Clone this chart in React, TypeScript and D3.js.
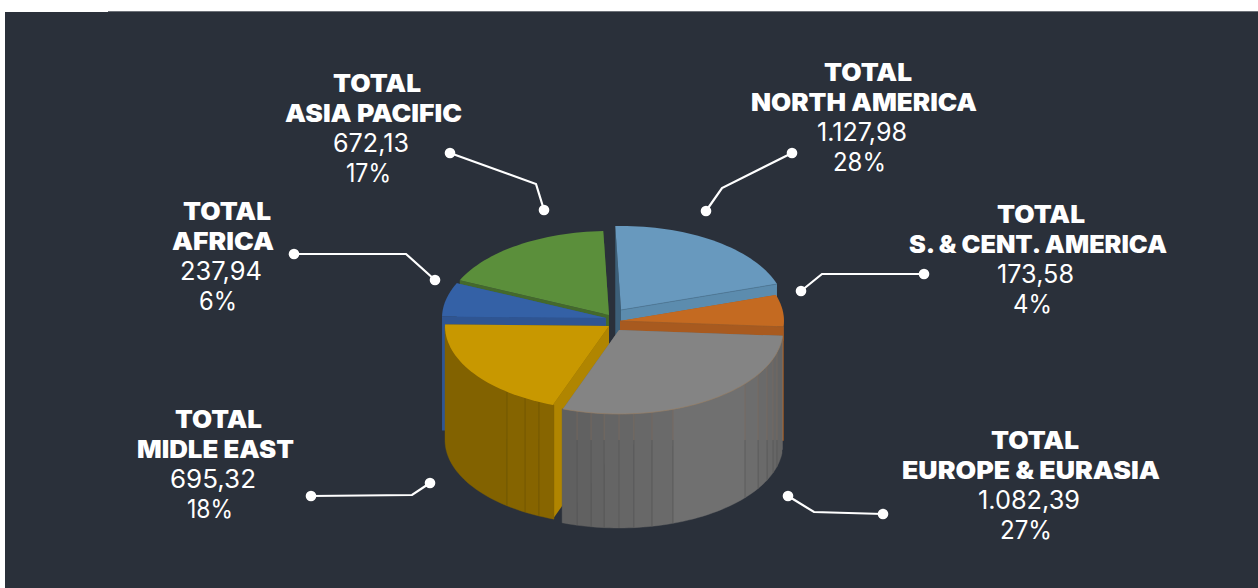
import React from "react";
import * as d3 from "d3";

const W = 1258, H = 588;
const BG = "#2a303a";

// ---- data, clockwise from the top of the pie
const regions = ["NORTH AMERICA", "S. & CENT. AMERICA", "EUROPE & EURASIA", "MIDLE EAST", "AFRICA", "ASIA PACIFIC"];
const regionValues = [1127.98, 173.58, 1082.39, 695.32, 237.94, 672.13];
const regionPercents = [28, 4, 27, 18, 6, 17];

// ---- perspective of the drawing: slice boundaries end up at these ellipse angles
const drawnBoundaries = [-2, 72, 94, 200, 271, 294.5, 358];

// ---- per slice styling
const topColors = ["#6899be", "#c46a21", "#848484", "#c89800", "#3461a6", "#5b8f3b"];
const startWallColors = ["#3d6079", "#a85a1f", "#6a6a6a", "#b08500", "#2f5592", "#44692c"];
const endWallColors = ["#5c8cae", "#bb6520", "#6a6a6a", "#7f6000", "#2f5592", "#44692c"];
const edgeBandColors = [null, "#a85a1f", null, null, null, null];
const edgeLineColors = ["#4f7897", "#9a5a28", null, null, null, null];
const rimLineColors = [null, null, "#9c7f62", null, null, null];
const explodeX = [9, 8, 7, -3, -6, -3];
const explodeY = [-10, 1, 10, 6, -2, -5];
const paintOrder = [5, 0, 4, 1, 3, 2];

// outer wall facets (degrees on the ellipse)
const greyFacets = [96.3, 105.6, 110.1, 115.5, 122, 129.8, 160.8, 168.4, 174.8, 180, 185.2, 189.8, 194.8, 200.3];
const goldFacets = [199.6, 205.3, 210.8, 218.5, 270];
const greyShade = d3.scaleLinear<string>().domain([200, 140, 96]).range(["#5f5f5f", "#727272", "#626262"]);
const goldShade = d3.scaleLinear<string>().domain([200, 270]).range(["#876500", "#7f6000"]);

// ---- labels
const labelHead = "TOTAL";
const labelOrder = [5, 0, 1, 4, 3, 2];
// [x0,x1] of the four rows of each region's label, in region order
const labelSpans = [
  [[824, 912], [751, 977], [817, 907], [833, 886]],
  [[997, 1085], [909, 1167], [997, 1074], [1013, 1052]],
  [[991, 1079], [902, 1160], [978, 1080], [1000, 1052]],
  [[175, 262], [137, 294], [170, 256], [187, 233]],
  [[183, 271], [172, 274], [180, 262], [199, 237]],
  [[333, 421], [285, 462], [333, 409], [346, 391]],
];
const labelFirstBaseline = [80.5, 222.5, 448.5, 427.5, 219.5, 91.5];
const leaders = [
  [[792, 153], [722, 188], [706, 211]],
  [[924, 274], [822, 274], [801, 291]],
  [[883, 514], [814, 512], [788, 496]],
  [[311, 496], [412, 495], [430, 483]],
  [[294, 254], [406, 254], [435, 280]],
  [[450, 153], [536, 184], [544, 210]],
];

const CX = 612, CY = 320, RX = 164, RY = 84, DEPTH = 114, BAND = 14;
const SEAM_TINT_BOTTOM = 440;
const rad = (deg: number) => (deg * Math.PI) / 180;
const numberLocale = d3.formatLocale({ decimal: ",", thousands: ".", grouping: [3], currency: ["", ""] });
const fmt = numberLocale.format(",.2f");

const pieArcs = d3.pie<number>().sort(null).value((d) => d)(regionValues);
const dataBoundaries = [0, ...pieArcs.map((a) => (a.endAngle * 180) / Math.PI)];
const warp = d3.scaleLinear().domain(dataBoundaries).range(drawnBoundaries);
const lineGen = d3.line();

function rim(i: number, deg: number, drop = 0): [number, number] {
  return [CX + explodeX[i] + RX * Math.sin(rad(deg)), CY + explodeY[i] - RY * Math.cos(rad(deg)) + drop];
}
function apex(i: number, drop = 0): [number, number] {
  return [CX + explodeX[i], CY + explodeY[i] + drop];
}
function arcPts(i: number, a0: number, a1: number, drop = 0): [number, number][] {
  const n = Math.max(2, Math.ceil(Math.abs(a1 - a0) / 2));
  return d3.range(n + 1).map((k) => rim(i, a0 + ((a1 - a0) * k) / n, drop));
}
const closed = (pts: [number, number][]) => lineGen(pts) + "Z";

function Slice({ i }: { i: number }) {
  const a0 = warp((pieArcs[i].startAngle * 180) / Math.PI);
  const a1 = warp((pieArcs[i].endAngle * 180) / Math.PI);
  const radial = (a: number, depth = DEPTH) =>
    closed([apex(i), rim(i, a), rim(i, a, depth), apex(i, depth)]);
  const facets = i === 2 ? greyFacets : i === 3 ? goldFacets : null;
  const shade = i === 2 ? greyShade : goldShade;
  const topPath = closed([apex(i), ...arcPts(i, a0, a1)]);
  return (
    <g>
      <path d={radial(a1)} fill={endWallColors[i]} />
      <path d={radial(a0)} fill={startWallColors[i]} />
      {edgeBandColors[i] && <path d={radial(a1, BAND)} fill={edgeBandColors[i] as string} />}
      {facets &&
        facets.slice(0, -1).map((f, k) => {
          const g = facets[k + 1];
          const fill = shade((f + g) / 2);
          return (
            <path
              key={k}
              d={closed([...arcPts(i, f, g), ...arcPts(i, g, f, DEPTH)])}
              fill={fill}
              stroke={fill}
              strokeWidth={0.4}
            />
          );
        })}
      {facets &&
        facets.slice(1, -1).map((f, k) => {
          const top = rim(i, f);
          const bottom = rim(i, f, DEPTH);
          const tintEnd: [number, number] = [top[0], Math.max(top[1], Math.min(bottom[1], SEAM_TINT_BOTTOM))];
          return (
            <g key={k}>
              <path d={lineGen([tintEnd, bottom]) as string} stroke={i === 2 ? "#585858" : "#6f5400"} strokeWidth={0.7} />
              <path d={lineGen([top, tintEnd]) as string} stroke={i === 2 ? "#7d6c5e" : "#6f5400"} strokeWidth={0.7} />
            </g>
          );
        })}
      <path d={topPath} fill={topColors[i]} />
      {edgeLineColors[i] && (
        <path d={lineGen([apex(i), rim(i, a1)]) as string} stroke={edgeLineColors[i] as string} strokeWidth={0.8} />
      )}
      {rimLineColors[i] && (
        <path d={lineGen(arcPts(i, a0, a1)) as string} fill="none" stroke={rimLineColors[i] as string} strokeWidth={0.6} />
      )}
    </g>
  );
}

export default function App() {
  return (
    <svg
      width={W}
      height={H}
      viewBox={`0 0 ${W} ${H}`}
      style={{ position: "absolute", left: 0, top: 0, background: "#fff" }}
    >
      <rect x={5} y={12} width={W - 5} height={H - 12} fill={BG} />
      <rect x={108} y={11} width={W - 108} height={1} fill="#6d7178" />
      {paintOrder.map((i) => (
        <Slice key={i} i={i} />
      ))}
      {leaders.map((pts, i) => (
        <g key={i}>
          <path d={lineGen(pts as [number, number][]) as string} fill="none" stroke="#fff" strokeWidth={2.2} />
          <circle cx={pts[0][0]} cy={pts[0][1]} r={5.3} fill="#fff" />
          <circle cx={pts[2][0]} cy={pts[2][1]} r={5.3} fill="#fff" />
        </g>
      ))}
      {labelOrder.map((i) => {
        const rows = [labelHead, regions[i], fmt(regionValues[i]), regionPercents[i] + "%"];
        return (
          <g key={i} fill="#fff" fontFamily="Inter, 'Open Sans', sans-serif">
            {rows.map((t, r) => (
              <text
                key={r}
                x={labelSpans[i][r][0]}
                y={labelFirstBaseline[i] + r * 30}
                textLength={labelSpans[i][r][1] - labelSpans[i][r][0]}
                lengthAdjust="spacingAndGlyphs"
                fontSize={r < 2 ? 24 : 25}
                fontWeight={r < 2 ? 900 : 400}
              >
                {t}
              </text>
            ))}
          </g>
        );
      })}
    </svg>
  );
}
